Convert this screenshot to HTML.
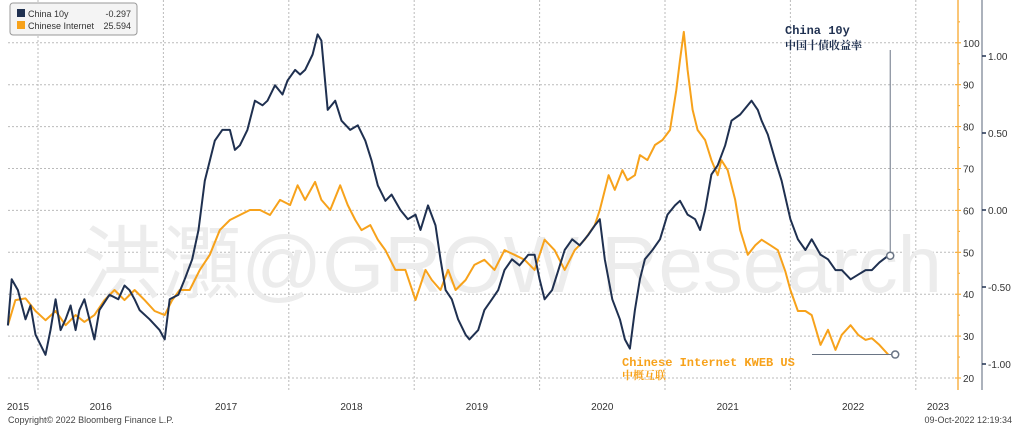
<!DOCTYPE html>
<html><head><meta charset="utf-8"><style>
body{margin:0;background:#fff;}
svg{display:block;font-family:"Liberation Sans","Noto Sans CJK SC",sans-serif;}
</style></head><body>
<svg id="chart" width="1024" height="426">
<g id="grid"></g>
<text x="512" y="292" font-size="80" fill="#ececec" text-anchor="middle" textLength="860" lengthAdjust="spacingAndGlyphs" font-family="'Liberation Sans','Noto Sans CJK SC',sans-serif">洪灝@GROW Research</text>
<g id="series"></g>
<g id="axes"></g>
<g>
<rect x="10" y="3" width="127" height="32" rx="3" fill="#f4f4f4" stroke="#999"/>
<rect x="17" y="9" width="8" height="8" fill="#1f3050"/>
<text x="28" y="17" font-size="9" fill="#333">China 10y</text>
<text x="131" y="17" font-size="9" fill="#333" text-anchor="end">-0.297</text>
<rect x="17" y="21" width="8" height="8" fill="#f7a21b"/>
<text x="28" y="29" font-size="9" fill="#333">Chinese Internet</text>
<text x="131" y="29" font-size="9" fill="#333" text-anchor="end">25.594</text>
</g>
<g font-family="'Liberation Mono','Noto Serif CJK SC',monospace" font-weight="bold">
<text x="785" y="34" font-size="12" fill="#1f3050">China 10y</text>
<text x="785" y="49" font-size="11" fill="#1f3050">中国十債收益率</text>
<text x="622" y="366" font-size="12" fill="#f7a21b">Chinese Internet KWEB US</text>
<text x="622" y="379" font-size="11" fill="#f7a21b">中概互联</text>
</g>
<text x="8" y="423" font-size="9" fill="#444">Copyright© 2022 Bloomberg Finance L.P.</text>
<text x="1012" y="423" font-size="9" fill="#444" text-anchor="end">09-Oct-2022 12:19:34</text>
</svg>
<script>
const darkDates=[2015.76,2015.79,2015.84,2015.90,2015.94,2015.98,2016.06,2016.10,2016.14,2016.18,2016.22,2016.26,2016.30,2016.33,2016.37,2016.41,2016.45,2016.49,2016.57,2016.64,2016.69,2016.73,2016.77,2016.81,2016.89,2016.97,2017.01,2017.05,2017.12,2017.17,2017.23,2017.28,2017.33,2017.37,2017.41,2017.47,2017.53,2017.57,2017.61,2017.67,2017.73,2017.79,2017.83,2017.89,2017.95,2017.99,2018.05,2018.09,2018.13,2018.19,2018.23,2018.26,2018.31,2018.37,2018.42,2018.49,2018.55,2018.61,2018.66,2018.71,2018.77,2018.82,2018.89,2018.95,2019.01,2019.05,2019.11,2019.17,2019.21,2019.25,2019.30,2019.35,2019.41,2019.44,2019.51,2019.56,2019.62,2019.67,2019.72,2019.78,2019.84,2019.91,2019.96,2020.00,2020.04,2020.10,2020.15,2020.20,2020.26,2020.32,2020.39,2020.44,2020.48,2020.52,2020.58,2020.64,2020.68,2020.72,2020.76,2020.80,2020.84,2020.90,2020.96,2021.02,2021.08,2021.12,2021.18,2021.24,2021.28,2021.32,2021.37,2021.42,2021.48,2021.53,2021.60,2021.66,2021.69,2021.74,2021.77,2021.82,2021.88,2021.93,2022.00,2022.06,2022.12,2022.17,2022.24,2022.30,2022.36,2022.41,2022.48,2022.54,2022.60,2022.65,2022.71,2022.78];
const darkValues=[-0.75,-0.45,-0.52,-0.71,-0.62,-0.81,-0.94,-0.78,-0.58,-0.78,-0.71,-0.62,-0.78,-0.65,-0.58,-0.71,-0.84,-0.65,-0.55,-0.58,-0.49,-0.52,-0.58,-0.65,-0.71,-0.78,-0.84,-0.58,-0.55,-0.45,-0.32,-0.13,0.19,0.32,0.45,0.52,0.52,0.39,0.42,0.52,0.71,0.68,0.71,0.81,0.75,0.84,0.91,0.88,0.91,1.01,1.14,1.10,0.65,0.71,0.58,0.52,0.55,0.45,0.32,0.16,0.06,0.10,0.00,-0.06,-0.03,-0.13,0.03,-0.10,-0.32,-0.52,-0.58,-0.71,-0.81,-0.84,-0.78,-0.65,-0.58,-0.52,-0.39,-0.32,-0.36,-0.29,-0.29,-0.45,-0.58,-0.52,-0.39,-0.26,-0.19,-0.23,-0.16,-0.10,-0.06,-0.32,-0.58,-0.71,-0.84,-0.90,-0.65,-0.45,-0.32,-0.26,-0.19,-0.03,0.03,0.06,-0.03,-0.06,-0.13,0.00,0.23,0.29,0.42,0.58,0.62,0.68,0.71,0.65,0.58,0.49,0.32,0.19,-0.06,-0.19,-0.26,-0.19,-0.29,-0.32,-0.39,-0.39,-0.45,-0.42,-0.39,-0.39,-0.34,-0.297];
const orangeDates=[2015.76,2015.82,2015.90,2015.98,2016.06,2016.14,2016.22,2016.30,2016.37,2016.45,2016.53,2016.61,2016.69,2016.77,2016.85,2016.93,2017.01,2017.07,2017.13,2017.21,2017.29,2017.37,2017.45,2017.53,2017.61,2017.69,2017.77,2017.85,2017.93,2018.01,2018.07,2018.13,2018.21,2018.26,2018.33,2018.41,2018.47,2018.53,2018.58,2018.65,2018.71,2018.77,2018.85,2018.93,2019.01,2019.09,2019.14,2019.21,2019.27,2019.33,2019.41,2019.48,2019.56,2019.64,2019.72,2019.80,2019.88,2019.96,2020.04,2020.12,2020.20,2020.28,2020.36,2020.44,2020.48,2020.55,2020.60,2020.66,2020.70,2020.76,2020.80,2020.86,2020.92,2020.98,2021.04,2021.09,2021.12,2021.15,2021.18,2021.22,2021.26,2021.32,2021.37,2021.42,2021.45,2021.50,2021.56,2021.60,2021.66,2021.72,2021.77,2021.84,2021.90,2021.96,2022.00,2022.06,2022.12,2022.17,2022.24,2022.30,2022.36,2022.41,2022.48,2022.54,2022.60,2022.65,2022.71,2022.78];
const orangeValues=[32.6,38.6,39,36,33.8,36,32.6,35,33.4,35,38.6,41,38.6,41,38.6,36,35,38.6,41,41,45.8,49.4,55.3,57.7,58.9,60.1,60.1,58.9,62.5,61.3,66,62.5,66.8,62.5,60.1,66,61.3,57.7,55.3,56.5,53,50.5,45.8,45.8,38.6,45.8,43.4,41,45.8,41,43.4,47,48.2,45.8,50.5,49.4,48.2,45.8,53,50.5,45.8,50.5,53,56.5,60.1,68.4,64.9,69.6,67.2,68.4,73.2,72,75.6,76.8,79.2,88.7,95.9,102.6,93.5,84,79.2,76.8,72,68.4,72,69.6,62.5,55.3,49.4,51.7,53,51.7,50.5,45.4,41,36,36,35,27.9,31.5,26.7,30.3,32.6,30.3,29.1,29.5,27.9,25.594];
const yearLabels=["2015","2016","2017","2018","2019","2020","2021","2022","2023"];
const orangeTicks=[20,30,40,50,60,70,80,90,100];
const darkTicks=[-1.0,-0.5,0.0,0.5,1.0];

const NS="http://www.w3.org/2000/svg";
const X0=38,YW=125.4,PL=8,PR=958,PT=0,PB=390;
function xs(d){return X0+(d-2016)*YW;}
function yO(v){return 378-(v-20)*4.19;}
function yD(v){return 210-v*154;}
function mk(tag,attrs,parent){const e=document.createElementNS(NS,tag);for(const k in attrs)e.setAttribute(k,attrs[k]);parent.appendChild(e);return e;}
const grid=document.getElementById('grid'),axes=document.getElementById('axes'),series=document.getElementById('series');
orangeTicks.forEach(t=>{
  const l=mk('line',{x1:PL,x2:PR,y1:yO(t),y2:yO(t),stroke:'#bbb','stroke-dasharray':'2,2'},grid);
  
  
  const tk=mk('line',{x1:PR-3,x2:PR+3,y1:yO(t),y2:yO(t),stroke:'#f7a21b'},axes);
  
  
  const mt=mk('line',{x1:PR,x2:PR+2,y1:yO(t+5),y2:yO(t+5),stroke:'#f7a21b'},axes);
  
  
  const tx=mk('text',{x:PR+5,y:yO(t)+4,'font-size':10,fill:'#333'},axes);
  tx.textContent=t;
  
  
});
yearLabels.forEach((y,i)=>{
  const yr=+y;
  const vx=xs(yr);
  if(vx>PL&&vx<PR){
    const l=mk('line',{x1:vx,x2:vx,y1:PT,y2:PB,stroke:'#bbb','stroke-dasharray':'2,2'},grid);
    
    
  }
  let cx=xs(yr+0.5);
  if(yr===2015)cx=18;
  if(yr===2023)cx=938;
  const tx=mk('text',{x:cx,y:410,'font-size':10,fill:'#333','text-anchor':'middle'},axes);
  tx.textContent=y;
  
  
});
const oa=mk('line',{x1:PR,x2:PR,y1:0,y2:PB,stroke:'#f9b44a','stroke-width':1.5},axes);


const da=mk('line',{x1:982,x2:982,y1:0,y2:PB,stroke:'#5a6478','stroke-width':1},axes);


darkTicks.forEach(t=>{
  const tk=mk('line',{x1:982,x2:986,y1:yD(t),y2:yD(t),stroke:'#1f3050','stroke-width':1.5},axes);
  
  
  const tx=mk('text',{x:988,y:yD(t)+4,'font-size':10,fill:'#333'},axes);
  tx.textContent=t.toFixed(2);
  
  
});
function path(dates,vals,yf,color,name){
  const d=dates.map((t,i)=>(i?'L':'M')+xs(t).toFixed(1)+','+yf(vals[i]).toFixed(1)).join('');
  const p=mk('path',{d:d,fill:'none',stroke:color,'stroke-width':2,'stroke-linejoin':'round'},series);
  
  
}
path(orangeDates,orangeValues,yO,'#f7a21b','internet-line');
path(darkDates,darkValues,yD,'#1f3050','china10y-line');
const lxD=xs(darkDates[darkDates.length-1])+2, lyD=yD(darkValues[darkValues.length-1]);
const l1=mk('line',{x1:lxD,x2:lxD,y1:50,y2:lyD,stroke:'#6a7585'},series);


const c1=mk('circle',{cx:lxD,cy:lyD,r:3.5,fill:'#fff',stroke:'#6a7585','stroke-width':1.5},series);


const lyO=yO(orangeValues[orangeValues.length-1]);
const l2=mk('line',{x1:812,x2:lxD+5,y1:lyO,y2:lyO,stroke:'#6a7585'},series);


const c2=mk('circle',{cx:lxD+5,cy:lyO,r:3.5,fill:'#fff',stroke:'#6a7585','stroke-width':1.5},series);


</script>
</body></html>
